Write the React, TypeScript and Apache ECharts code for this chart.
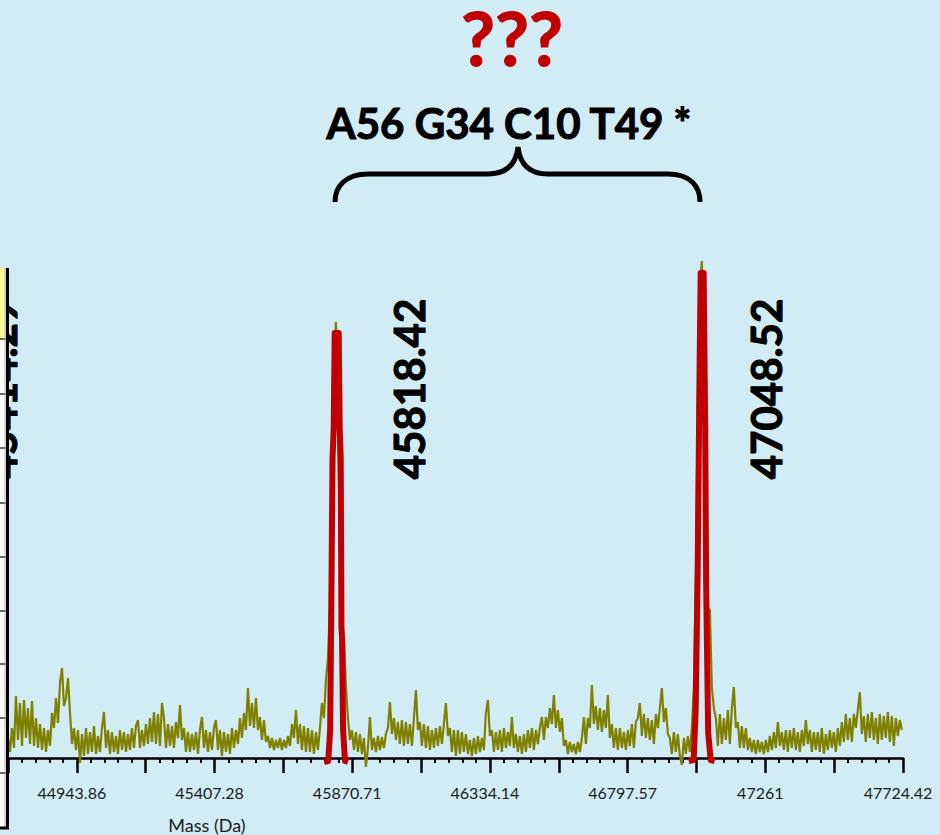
import React, { useEffect, useRef } from "react";
import * as echarts from "echarts";

// Mass axis range (Da) and labelled tick values
const MASS_MIN = 44712.145;
const MASS_MAX = 47724.42;
const TICK_LABELS = ["44943.86", "45407.28", "45870.71", "46334.14", "46797.57", "47261", "47724.42"];

// Raw spectrum: intensity sampled every SPECTRUM_STEP Da from SPECTRUM_START
const SPECTRUM_START = 44712.15;
const SPECTRUM_STEP = 6.73;
const SPECTRUM = [
  20, 6, 30, 10, 62, 18, 55, 12, 58, 20, 50, 14, 57, 12, 40,
  10, 34, 8, 30, 6, 28, 12, 45, 30, 60, 35, 75, 90, 52, 60,
  80, 45, 14, 30, 8, 28, -5, 24, 2, 30, 4, 26, 6, 32, 4,
  22, 6, 30, 46, 10, 28, 4, 26, 6, 22, 4, 28, 8, 26, 6,
  24, 8, 30, 10, 32, 38, 10, 28, 12, 34, 14, 40, 16, 46, 14,
  44, 12, 55, 40, 10, 34, 12, 32, 10, 36, 20, 53, 18, 30, 6,
  26, 6, 24, 8, 26, 4, 28, 41, 10, 28, 6, 26, 8, 30, 38,
  8, 28, 2, 26, 6, 24, 4, 30, 10, 28, 14, 40, 20, 45, 28,
  70, 32, 55, 30, 60, 28, 41, 18, 38, 16, 22, 10, 20, 8, 18,
  10, 20, 8, 18, 10, 22, 12, 34, 20, 48, 14, 34, 8, 32, 6,
  30, 6, 28, 4, 26, 8, 30, 55, 40, 78, 100, 150, 310, 400, 436,
  330, 220, 126, 120, 71, 40, 18, 28, 8, 26, 6, 24, 4, 20, -9,
  10, 41, 8, 20, 6, 22, 8, 21, 10, 24, 30, 56, 24, 40, 18,
  36, 14, 38, 12, 36, 14, 34, 12, 40, 68, 28, 36, 12, 34, 10,
  32, 8, 28, 10, 30, 12, 32, 14, 34, 55, 22, 30, 6, 28, 2,
  28, 4, 26, 6, 24, 4, 18, 2, 20, 4, 22, 6, 20, 8, 45,
  58, 22, 28, 6, 26, 8, 28, 6, 30, 10, 26, 12, 41, 10, 24,
  6, 22, 4, 24, 6, 28, 10, 30, 8, 28, 14, 30, 41, 18, 41,
  30, 50, 34, 63, 30, 48, 26, 40, 12, 18, 4, 16, 6, 14, 4,
  16, 6, 20, 41, 14, 40, 30, 73, 34, 52, 28, 50, 26, 48, 30,
  63, 20, 34, 10, 30, 8, 30, 10, 26, 8, 28, 12, 34, 10, 36,
  40, 55, 22, 44, 20, 40, 18, 38, 14, 44, 30, 50, 70, 36, 50,
  24, 20, 4, 26, 6, 24, 2, -7, 20, 4, 22, 6, 30, 70, 180,
  360, 470, 497, 360, 220, 150, 148, 70, 50, 40, 12, 44, 14, 40, 18,
  48, 14, 50, 71, 30, 36, 10, 32, 10, 30, 8, 20, 6, 18, 4,
  18, 6, 16, 4, 18, 6, 22, 8, 26, 10, 36, 12, 26, 8, 28,
  6, 28, 10, 30, 8, 26, 6, 28, 12, 38, 14, 28, 6, 26, 8,
  26, 6, 30, 4, 24, 8, 28, 10, 26, 6, 30, 12, 36, 16, 44,
  18, 40, 16, 44, 30, 48, 66, 24, 42, 16, 44, 20, 46, 18, 40,
  14, 44, 18, 42, 20, 46, 16, 42, 12, 40, 22, 38, 28,
];

// Deconvolved peaks: centre masses, their labels, and outline (offset from centre in Da, intensity)
const PEAK_MASSES = [45818.42, 47048.52];
const PEAK_TEXT = ["45818.42", "47048.52"];
const FIT_1_OFFSET = [-42.0, -28.6, -22.0, -18.5, -14.0, -10.1, -6.7, 6.7, 10.1, 13.5, 16.0, 18.0, 21.5, 28.0, 38.0];
const FIT_1_HEIGHT = [-4, -3, 28, 140, 300, 330, 425, 425, 330, 300, 130, 122, 28, -3, -4];
const FIT_2_OFFSET = [-45.4, -28.6, -21.9, -15.1, -8.4, -5.0, 5.0, 10.1, 13.5, 20.2, 28.6, 42.1];
const FIT_2_HEIGHT = [-3, -2, 48, 188, 400, 485, 485, 330, 170, 25, -2, -3];

// Label for a peak just left of the visible range
const OFFSCREEN_LABEL = "45414.29";
const COMPOSITION = "A56 G34 C10 T49 *";
const QUERY = "???";
const X_NAME = "Mass (Da)";

const OLIVE = "#808000";
const RED = "#C00000";
const BG = "#D1ECF5";
const FONT = "Lato, 'Open Sans', sans-serif";

const BRACE_PATH =
  "M335,202 C335,186 346,174 368,174 L488,174 C506,174 516,165 518,147 C520,165 530,174 548,174 L668,174 C690,174 700,186 700,202";

let braceRegistered = false;

function boldText(text: string, x: number, y: number, size: number, fill: string, extra: object = {}) {
  return {
    type: "text",
    x,
    y,
    z: 10,
    ...extra,
    style: {
      text,
      fill,
      stroke: fill,
      lineWidth: 1.1,
      font: `bold ${size}px ${FONT}`,
      align: "center",
      verticalAlign: "middle",
      textAlign: "center",
      textVerticalAlign: "middle",
    },
  };
}

export default function App() {
  const ref = useRef<HTMLDivElement>(null);

  useEffect(() => {
    if (!ref.current) return;
    if (!braceRegistered) {
      echarts.graphic.registerShape("brace", echarts.graphic.extendPath(BRACE_PATH, {}));
      braceRegistered = true;
    }
    const chart = echarts.init(ref.current, undefined, { renderer: "svg" });

    const labelValues = TICK_LABELS.map((t) => parseFloat(t));
    const majorStep = (MASS_MAX - MASS_MIN) / 13;
    const majorTicks: number[] = [];
    for (let k = 0; k <= 13; k++) majorTicks.push(MASS_MIN + k * majorStep);
    const minorTicks: number[] = [];
    for (let k = 0; k < 13; k++) {
      for (let j = 1; j < 5; j++) minorTicks.push(MASS_MIN + k * majorStep + (j * majorStep) / 5);
    }
    const labelFor = (v: number) => {
      let best = 0;
      labelValues.forEach((lv, i) => {
        if (Math.abs(lv - v) < Math.abs(labelValues[best] - v)) best = i;
      });
      return TICK_LABELS[best];
    };

    const spectrum = SPECTRUM.map((h, i) => [SPECTRUM_START + i * SPECTRUM_STEP, h]);
    const fit1 = FIT_1_OFFSET.map((d, i) => [PEAK_MASSES[0] + d, FIT_1_HEIGHT[i]]);
    const fit2 = FIT_2_OFFSET.map((d, i) => [PEAK_MASSES[1] + d, FIT_2_HEIGHT[i]]);

    chart.setOption({
      animation: false,
      grid: { left: 8, right: 37, top: 258, bottom: 77, containLabel: false },
      xAxis: [
        {
          type: "value",
          min: MASS_MIN,
          max: MASS_MAX,
          position: "bottom",
          axisLine: { show: true, onZero: false, lineStyle: { color: "#000", width: 2.5 } },
          axisTick: { show: true, customValues: majorTicks, length: 15, lineStyle: { color: "#000", width: 2.5 } },
          axisLabel: {
            show: true,
            customValues: labelValues,
            formatter: (v: number) => labelFor(v),
            margin: 26,
            color: "#1a1a1a",
            fontSize: 16,
            fontFamily: FONT,
            padding: [0, 10, 0, 0],
          },
          splitLine: { show: false },
        },
        {
          type: "value",
          min: MASS_MIN,
          max: MASS_MAX,
          position: "bottom",
          axisLine: { show: false, onZero: false },
          axisTick: { show: true, customValues: minorTicks, length: 5, lineStyle: { color: "#000", width: 2 } },
          axisLabel: { show: false },
          splitLine: { show: false },
        },
      ],
      yAxis: { type: "value", min: 0, max: 500, show: false },
      series: [
        {
          type: "line",
          data: spectrum,
          symbol: "none",
          clip: false,
          lineStyle: { color: OLIVE, width: 2.2, join: "miter" },
          z: 2,
        },
        {
          type: "line",
          data: fit1,
          symbol: "none",
          clip: false,
          lineStyle: { color: RED, width: 6, join: "round" },
          z: 3,
        },
        {
          type: "line",
          data: fit2,
          symbol: "none",
          clip: false,
          lineStyle: { color: RED, width: 6, join: "round" },
          z: 3,
        },
      ],
    });

    // Peak mass labels sit to the right of each peak, rotated to read upwards
    const LABEL_LEVEL = 369;
    const LABEL_DX = [72, 64];
    const peakLabels = PEAK_MASSES.map((m, i) => {
      const p = chart.convertToPixel({ seriesIndex: 0 }, [m, LABEL_LEVEL]) as number[];
      return boldText(PEAK_TEXT[i], p[0] + LABEL_DX[i], p[1], 42, "#000", { rotation: Math.PI / 2 });
    });

    const tableRows = [339, 394, 448, 503, 557, 611, 664, 718, 773];

    const query = boldText(QUERY, 512, 37, 74, RED);
    (query.style as any).lineHeight = 64;

    chart.setOption({
      graphic: [
        ...peakLabels,
        boldText(OFFSCREEN_LABEL, 1, 389, 42, "#000", { rotation: Math.PI / 2 }),
        // neighbouring table panel on the left edge
        { type: "rect", z: 20, shape: { x: 0, y: 268, width: 6, height: 561 }, style: { fill: "#ffffff" } },
        { type: "rect", z: 21, shape: { x: 0, y: 268, width: 6, height: 71 }, style: { fill: "#FFFF99" } },
        ...tableRows.map((y) => ({
          type: "line",
          z: 22,
          shape: { x1: 0, y1: y, x2: 6, y2: y },
          style: { stroke: "#333", lineWidth: 1.5 },
        })),
        { type: "line", z: 22, shape: { x1: 5, y1: 268, x2: 5, y2: 829 }, style: { stroke: "#aaa", lineWidth: 1 } },
        { type: "line", z: 23, shape: { x1: 7.5, y1: 268, x2: 7.5, y2: 829 }, style: { stroke: "#000", lineWidth: 3 } },
        { type: "line", z: 23, shape: { x1: 0, y1: 828, x2: 9, y2: 828 }, style: { stroke: "#000", lineWidth: 3 } },
        // titles
        query,
        boldText(COMPOSITION, 509, 123, 42, "#000"),
        {
          type: "brace",
          x: 0,
          y: 0,
          z: 10,
          style: { fill: null, stroke: "#000", lineWidth: 5 },
        },
        {
          type: "text",
          x: 207,
          y: 825,
          z: 10,
          style: {
            text: X_NAME,
            fill: "#1a1a1a",
            font: `18px ${FONT}`,
            align: "center",
            verticalAlign: "middle",
            textAlign: "center",
            textVerticalAlign: "middle",
          },
        },
      ],
    });

    return () => chart.dispose();
  }, []);

  return (
    <div
      ref={ref}
      style={{ position: "fixed", left: 0, top: 0, width: 940, height: 835, background: BG }}
    />
  );
}
